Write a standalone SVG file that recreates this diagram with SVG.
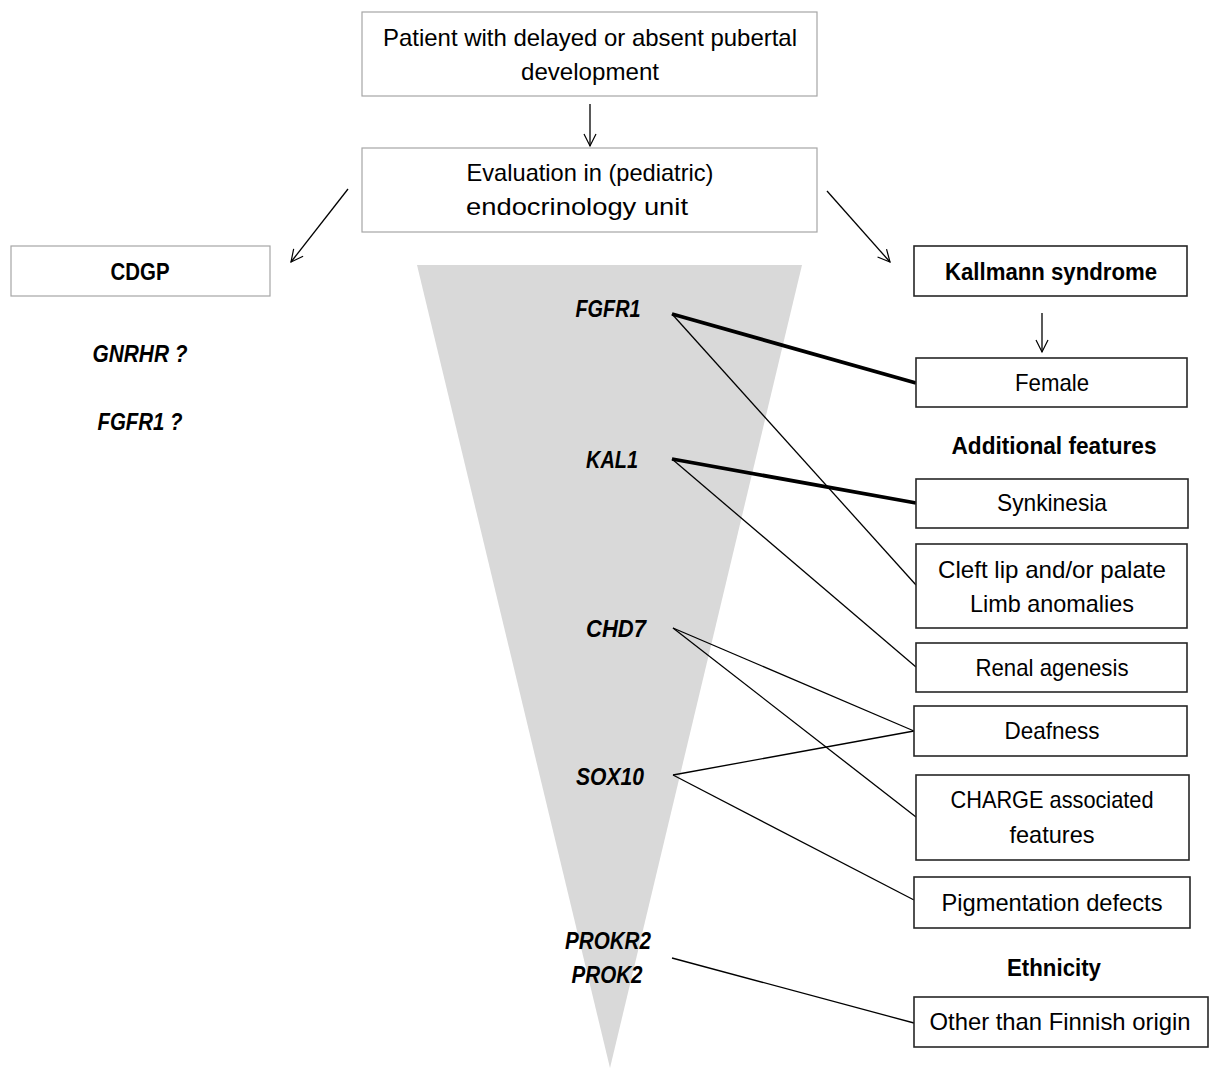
<svg xmlns="http://www.w3.org/2000/svg" width="1212" height="1070" viewBox="0 0 1212 1070">
<defs>
<marker id="arr" markerWidth="16" markerHeight="16" refX="14" refY="8" orient="auto" markerUnits="userSpaceOnUse">
<path d="M2,2 L14,8 L2,14" fill="none" stroke="#000" stroke-width="1.2"/>
</marker>
<style>
text{font-family:"Liberation Sans",Arial,sans-serif;font-size:24px;fill:#000;text-anchor:middle}
.b{font-weight:bold}
.bi{font-weight:bold;font-style:italic}
.gbox{fill:#fff;stroke:#a6a6a6;stroke-width:1.2}
.dbox{fill:#fff;stroke:#262626;stroke-width:1.6}
.thin{stroke:#000;stroke-width:1.3;fill:none}
.thick{stroke:#000;stroke-width:3.8;fill:none}
</style>
</defs>
<rect width="1212" height="1070" fill="#fff"/>
<polygon id="funnel" points="417,265 802,265 610,1068" fill="#d9d9d9"/>

<g id="connectors">
<line class="thin" x1="590" y1="104" x2="590" y2="146" marker-end="url(#arr)"/>
<line class="thin" x1="348" y1="189" x2="291" y2="262" marker-end="url(#arr)"/>
<line class="thin" x1="827" y1="191" x2="890" y2="262" marker-end="url(#arr)"/>
<line class="thin" x1="1042" y1="313" x2="1042" y2="352" marker-end="url(#arr)"/>
<line class="thick" x1="672" y1="314" x2="916" y2="383"/>
<line class="thin" x1="672" y1="314" x2="916" y2="585"/>
<line class="thick" x1="672" y1="459" x2="916" y2="503"/>
<line class="thin" x1="672" y1="459" x2="916" y2="667"/>
<line class="thin" x1="673" y1="628" x2="914" y2="731"/>
<line class="thin" x1="673" y1="628" x2="916" y2="817"/>
<line class="thin" x1="673" y1="775" x2="914" y2="731"/>
<line class="thin" x1="673" y1="775" x2="914" y2="900"/>
<line class="thin" x1="672" y1="958" x2="914" y2="1023"/>
</g>

<g id="patient">
<rect class="gbox" x="362" y="12" width="455" height="84"/>
<text x="590" y="46" textLength="414" lengthAdjust="spacingAndGlyphs">Patient with delayed or absent pubertal</text>
<text x="590" y="80" textLength="138" lengthAdjust="spacingAndGlyphs">development</text>
</g>
<g id="evaluation">
<rect class="gbox" x="362" y="148" width="455" height="84"/>
<text x="590" y="181" textLength="247" lengthAdjust="spacingAndGlyphs">Evaluation in (pediatric)</text>
<text x="577" y="215" textLength="222" lengthAdjust="spacingAndGlyphs">endocrinology unit</text>
</g>
<g id="cdgp">
<rect class="gbox" x="11" y="246" width="259" height="50"/>
<text class="b" x="140" y="280" textLength="59" lengthAdjust="spacingAndGlyphs">CDGP</text>
</g>
<g id="cdgp-genes">
<text class="bi" x="140" y="362" textLength="95" lengthAdjust="spacingAndGlyphs">GNRHR ?</text>
<text class="bi" x="140" y="430" textLength="85" lengthAdjust="spacingAndGlyphs">FGFR1 ?</text>
</g>

<g id="genes">
<text class="bi" x="608" y="317" textLength="65" lengthAdjust="spacingAndGlyphs">FGFR1</text>
<text class="bi" x="612" y="468" textLength="52" lengthAdjust="spacingAndGlyphs">KAL1</text>
<text class="bi" x="616" y="637" textLength="60" lengthAdjust="spacingAndGlyphs">CHD7</text>
<text class="bi" x="610" y="785" textLength="68" lengthAdjust="spacingAndGlyphs">SOX10</text>
<text class="bi" x="608" y="949" textLength="86" lengthAdjust="spacingAndGlyphs">PROKR2</text>
<text class="bi" x="607" y="983" textLength="71" lengthAdjust="spacingAndGlyphs">PROK2</text>
</g>

<g id="kallmann">
<rect class="dbox" x="914" y="246" width="273" height="50"/>
<text class="b" x="1051" y="280" textLength="212" lengthAdjust="spacingAndGlyphs">Kallmann syndrome</text>
</g>
<g id="female">
<rect class="dbox" x="916" y="358" width="271" height="49"/>
<text x="1052" y="391" textLength="74" lengthAdjust="spacingAndGlyphs">Female</text>
</g>
<text id="additional" class="b" x="1054" y="454" textLength="205" lengthAdjust="spacingAndGlyphs">Additional features</text>
<g id="synkinesia">
<rect class="dbox" x="916" y="479" width="272" height="49"/>
<text x="1052" y="511" textLength="110" lengthAdjust="spacingAndGlyphs">Synkinesia</text>
</g>
<g id="cleft">
<rect class="dbox" x="916" y="544" width="271" height="84"/>
<text x="1052" y="578" textLength="228" lengthAdjust="spacingAndGlyphs">Cleft lip and/or palate</text>
<text x="1052" y="612" textLength="164" lengthAdjust="spacingAndGlyphs">Limb anomalies</text>
</g>
<g id="renal">
<rect class="dbox" x="916" y="643" width="271" height="49"/>
<text x="1052" y="676" textLength="153" lengthAdjust="spacingAndGlyphs">Renal agenesis</text>
</g>
<g id="deafness">
<rect class="dbox" x="914" y="706" width="273" height="50"/>
<text x="1052" y="739" textLength="95" lengthAdjust="spacingAndGlyphs">Deafness</text>
</g>
<g id="charge">
<rect class="dbox" x="916" y="775" width="273" height="85"/>
<text x="1052" y="808" textLength="203" lengthAdjust="spacingAndGlyphs">CHARGE associated</text>
<text x="1052" y="843" textLength="85" lengthAdjust="spacingAndGlyphs">features</text>
</g>
<g id="pigmentation">
<rect class="dbox" x="914" y="877" width="276" height="51"/>
<text x="1052" y="911" textLength="221" lengthAdjust="spacingAndGlyphs">Pigmentation defects</text>
</g>
<text id="ethnicity" class="b" x="1054" y="976" textLength="94" lengthAdjust="spacingAndGlyphs">Ethnicity</text>
<g id="finnish">
<rect class="dbox" x="914" y="997" width="294" height="50"/>
<text x="1060" y="1030" textLength="261" lengthAdjust="spacingAndGlyphs">Other than Finnish origin</text>
</g>
</svg>
